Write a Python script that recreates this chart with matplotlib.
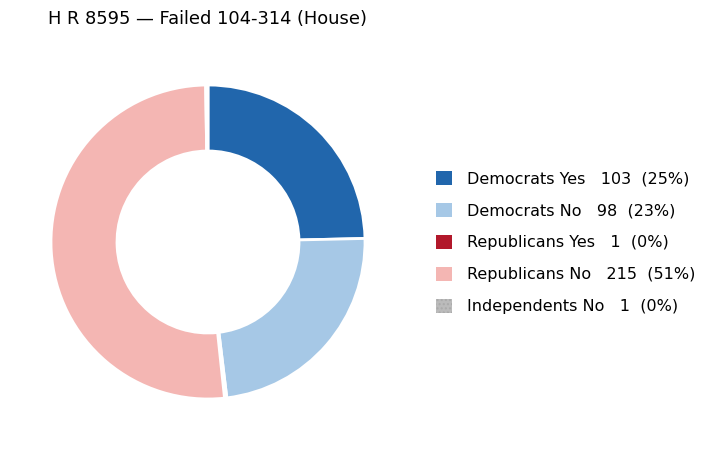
import matplotlib.pyplot as plt
from matplotlib.patches import Patch

# data
title = "H R 8595 \u2014 Failed 104-314 (House)"
labels = ["Democrats Yes", "Democrats No", "Republicans Yes", "Republicans No", "Independents No"]
counts = [103, 98, 1, 215, 1]
colors = ["#2166ac", "#a6c8e6", "#b2182b", "#f4b6b3", "#bbbbbb"]
hatches = [None, None, None, None, "...."]

total = sum(counts)

fig = plt.figure(figsize=(7.08, 4.5), dpi=100)
ax = fig.add_axes([(208 - 160) / 708, (450 - 242 - 160) / 450, 320 / 708, 320 / 450])
wedges, _ = ax.pie(counts, colors=colors, startangle=90, counterclock=False,
                   radius=157 / 160,
                   wedgeprops=dict(width=66 / 160, edgecolor="white", linewidth=2))
for w, h in zip(wedges, hatches):
    if h:
        w.set_hatch(h)
        w.set_edgecolor("white")
ax.set_xlim(-1, 1)
ax.set_ylim(-1, 1)
ax.set_aspect("equal")

fig.text(48 / 708, 1 - 18.5 / 450, title, fontsize=12.9, va="center", ha="left")

handles = []
for lab, c, col, h in zip(labels, counts, colors, hatches):
    pct = round(100 * c / total)
    handles.append(Patch(facecolor=col, edgecolor=col if not h else "#aaaaaa",
                         hatch=h, linewidth=0,
                         label=f"{lab}   {c}  ({pct}%)"))

fig.legend(handles=handles, loc="center left", bbox_to_anchor=(430 / 708, 1 - 242.5 / 450),
           frameon=False, fontsize=11.5, handlelength=1.0, handleheight=1.0,
           handletextpad=0.9, labelspacing=1.03, borderaxespad=0)

fig.savefig("out.png", dpi=100)
